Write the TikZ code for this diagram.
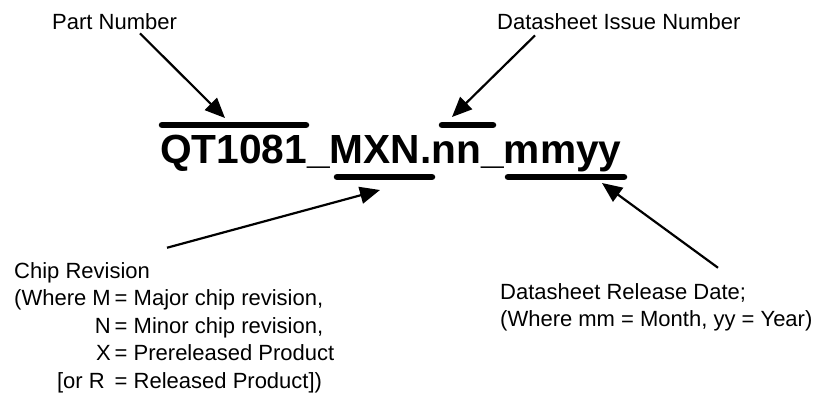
\documentclass[tikz,border=0pt]{standalone}
\usepackage{fontspec}
\setmainfont{Liberation Sans}
\usetikzlibrary{arrows.meta}
\begin{document}
\begin{tikzpicture}[x=1pt,y=-1pt,
  note/.style={inner sep=0, font=\fontsize{22}{27.5}\selectfont},
  bar/.style={line width=6.5pt, line cap=round},
  ptr/.style={line width=2.2pt, -{Triangle[length=20pt,width=17pt]}}]
\useasboundingbox (0,0) rectangle (828,394);
\node[inner sep=0, anchor=base west, font=\fontsize{40.7}{48}\selectfont\bfseries] (code) at (160,163) {QT1081\_MXN.nn\_mmyy};
\foreach \a/\b/\y in {162/306/125,442/493/125,337/432/177,508/624/177}
  \draw[bar] (\a,\y) -- (\b,\y);
\node[note, anchor=base west] (part) at (52,29) {Part Number};
\node[note, anchor=base west] (issue) at (497,29) {Datasheet Issue Number};
\node[note, anchor=north west] (chip) at (14,258.75) {\begin{tabular}{@{}r@{}l@{}}
\multicolumn{2}{@{}l@{}}{Chip Revision}\\
(Where M\kern4pt & = Major chip revision,\\
N\kern4pt & = Minor chip revision,\\
X\kern4pt & = Prereleased Product\\
{[}or R\kern10pt & = Released Product])
\end{tabular}};
\node[note, anchor=north west] (release) at (500,279.75) {\begin{tabular}{@{}l@{}}
Datasheet Release Date;\\
(Where mm = Month, yy = Year)
\end{tabular}};
\coordinate (parttip) at (225,118);
\coordinate (issuetip) at (452,117);
\coordinate (chiptip) at (380,190);
\coordinate (releasetip) at (602,183);
\draw[ptr] ([shift={(88,4)}]part.south west) -- (parttip);
\draw[ptr] ([shift={(38,6)}]issue.south west) -- (issuetip);
\draw[ptr] ([shift={(153,-11)}]chip.north west) -- (chiptip);
\draw[ptr] ([shift={(218,-12)}]release.north west) -- (releasetip);
\end{tikzpicture}
\end{document}
